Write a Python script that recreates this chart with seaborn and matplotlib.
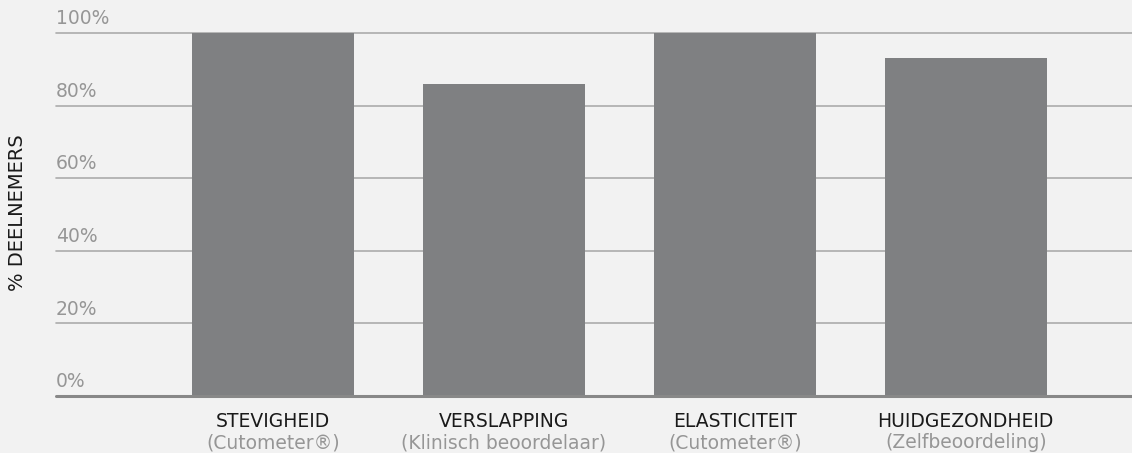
import matplotlib
matplotlib.use("Agg")

import matplotlib.pyplot as plt
import seaborn as sns
import pandas as pd


# ==================================================
# Data
# ==================================================

categories = [
    "STEVIGHEID",
    "VERSLAPPING",
    "ELASTICITEIT",
    "HUIDGEZONDHEID"
]

subtitles = [
    "(Cutometer®)",
    "(Klinisch beoordelaar)",
    "(Cutometer®)",
    "(Zelfbeoordeling)"
]

percentages = [100, 86, 100, 93]

y_ticks = [0, 20, 40, 60, 80, 100]

y_label = "% DEELNEMERS"


df = pd.DataFrame({
    "categorie": categories,
    "percentage": percentages
})


# ==================================================
# Style
# ==================================================

BG = "#f2f2f2"
BAR = "#7f8082"
GRID = "#acacac"
TICK_TXT = "#969696"

sns.set_style("white", {
    "axes.facecolor": BG,
    "figure.facecolor": BG
})

plt.rcParams["font.family"] = ["DejaVu Sans"]


# ==================================================
# Figure
# ==================================================

fig = plt.figure(figsize=(11.32, 4.53), dpi=100)

ax = fig.add_axes([56 / 1132, 1 - 396 / 453, 1 - 56 / 1132, 363 / 453])

sns.barplot(
    data=df,
    x="categorie",
    y="percentage",
    color=BAR,
    saturation=1,
    width=0.7,
    ax=ax,
    zorder=3
)

ax.set_xlim(-0.94, 3.72)
ax.set_ylim(0, 100)

for p in ax.patches:
    p.set_edgecolor("none")
    p.set_clip_on(False)

# gridlines + labels above them
for t in y_ticks:
    if t == 0:
        ax.axhline(t, color="#888888", lw=2.2, zorder=4, clip_on=False)
    else:
        ax.axhline(t, color=GRID, lw=1.2, zorder=1, clip_on=False)
    ax.annotate(
        f"{t}%",
        xy=(0, t),
        xycoords=ax.get_yaxis_transform(),
        xytext=(0, 3.5),
        textcoords="offset points",
        ha="left",
        va="bottom",
        fontsize=13.5,
        color=TICK_TXT
    )

ax.set_yticks([])
ax.set_xticks([])
ax.set_xlabel("")
ax.set_ylabel("")

for s in ax.spines.values():
    s.set_visible(False)

# category labels (two lines, shared baselines)
for i, (cat, sub) in enumerate(zip(categories, subtitles)):
    ax.annotate(
        cat,
        xy=(i, 0),
        xycoords=ax.get_xaxis_transform(),
        xytext=(0, -22.5),
        textcoords="offset points",
        ha="center",
        va="baseline",
        fontsize=13.5,
        color="#1a1a1a"
    )
    ax.annotate(
        sub,
        xy=(i, 0),
        xycoords=ax.get_xaxis_transform(),
        xytext=(0, -37.5),
        textcoords="offset points",
        ha="center",
        va="baseline",
        fontsize=13.5,
        color=TICK_TXT
    )

fig.text(
    18 / 1132,
    1 - 213 / 453,
    y_label,
    rotation=90,
    ha="center",
    va="center",
    fontsize=14,
    color="#1a1a1a"
)

fig.savefig("out.png", dpi=100, facecolor=BG)
